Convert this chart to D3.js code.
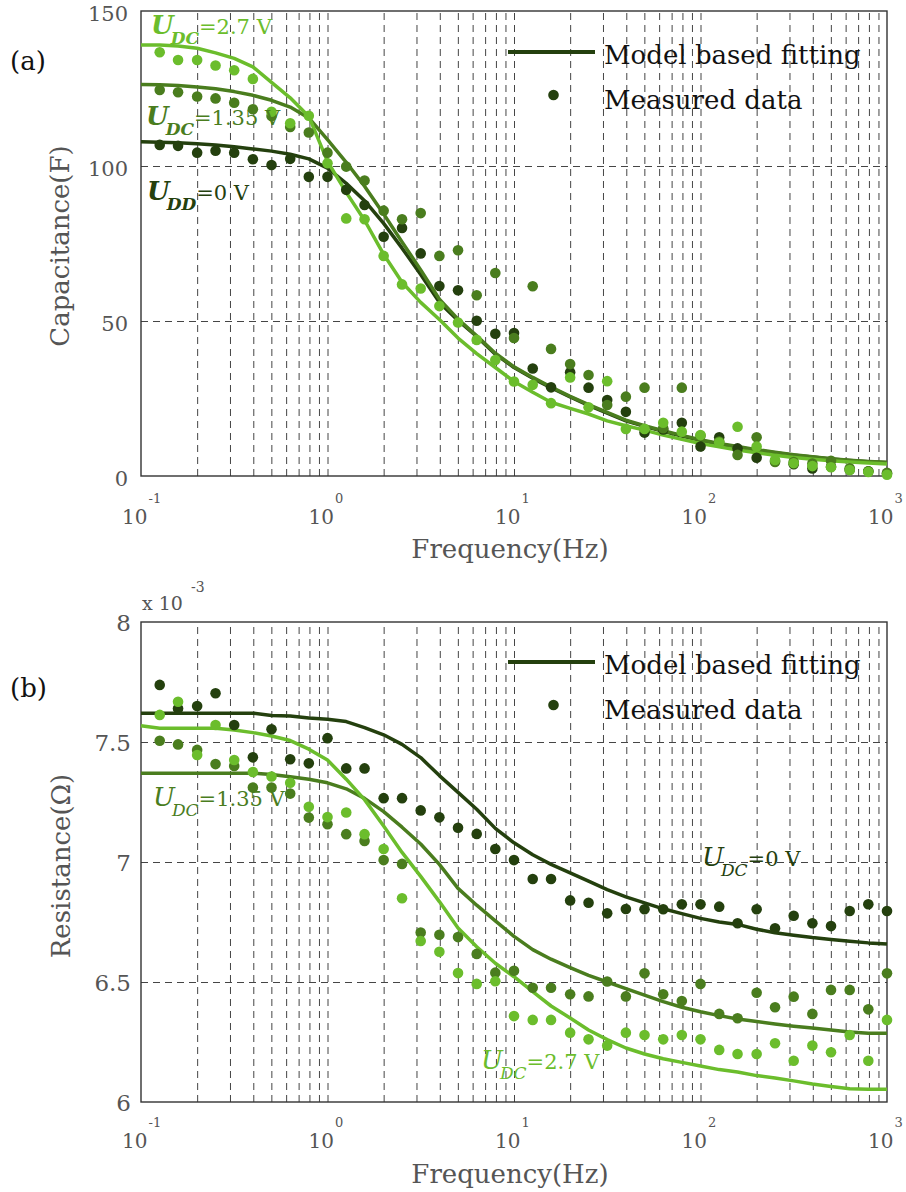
<!DOCTYPE html>
<html>
<head>
<meta charset="UTF-8">
<title>Capacitance and resistance vs frequency</title>
<style>
  body { margin: 0; background: #fff; }
  svg { display: block; font-family: "DejaVu Serif", serif; }
  .grid line { stroke: #454545; stroke-width: 1; stroke-dasharray: 7,5; }
  .grid path { display: none; }
  .frame { fill: none; stroke: #333; stroke-width: 1.4; }
  .tick-label { fill: #555; }
  .axis-title { fill: #555; }
</style>
</head>
<body>
<script src="https://d3js.org/d3.v7.min.js"></script>
<script>
'use strict';

// measured frequencies (Hz), 10 points per decade
var freq = [0.126, 0.158, 0.2, 0.251, 0.316, 0.398, 0.501, 0.631, 0.794, 1,
  1.26, 1.58, 2, 2.51, 3.16, 3.98, 5.01, 6.31, 7.94, 10,
  12.6, 15.8, 20, 25.1, 31.6, 39.8, 50.1, 63.1, 79.4, 100,
  126, 158, 200, 251, 316, 398, 501, 631, 794, 1000];
// model curves start at 0.1 Hz
var fitFreq = [0.1].concat(freq);

var seriesNames = ["0 V", "1.35 V", "2.7 V"];
var seriesColors = ["#24400e", "#4a7d1e", "#6bbd2c"];

// (a) capacitance, F
var capMeas0 = [106.8, 106.5, 104.3, 104.9, 104.3, 102.2, 100.3, 102.3, 96.5, 96.5,
  92.3, 87.4, 77.2, 80.0, 71.8, 61.3, 59.9, 50.1, 45.9, 46.1,
  34.7, 28.6, 33.5, 28.5, 24.5, 20.7, 14.0, 15.0, 17.2, 9.5,
  12.5, 8.9, 5.9, 4.8, 3.8, 2.4, 3.0, 2.0, 1.5, 0.8];
var capMeas135 = [124.5, 123.8, 122.4, 121.8, 120.4, 118.3, 116.1, 112.6, 110.8, 104.3,
  99.8, 95.3, 85.6, 82.8, 84.8, 71.0, 72.8, 58.3, 65.5, 44.5,
  61.2, 41.0, 36.1, 32.6, 22.9, 25.6, 28.5, 15.4, 28.5, 13.0,
  11.1, 6.8, 12.5, 4.5, 4.5, 4.0, 4.9, 2.5, 1.5, 1.0];
var capMeas27 = [136.7, 134.2, 134.2, 132.4, 130.9, 128.1, 117.5, 113.8, 116.2, 100.9,
  83.1, 82.8, 71.0, 61.8, 60.5, 54.8, 49.5, 43.9, 37.4, 30.5,
  29.4, 23.5, 31.8, 22.2, 30.6, 15.2, 15.2, 17.2, 14.3, 13.2,
  10.8, 15.9, 9.5, 5.2, 4.1, 3.2, 2.8, 1.9, 1.3, 0.4];
var capFit0 = [107.8, 107.7, 107.5, 107.2, 106.8, 106.2, 105.5, 104.8, 103.8, 102.3,
  99.3, 94.4, 88.8, 81.5, 73.5, 65.0, 56.0, 50.2, 45.0, 39.3,
  35.0, 31.5, 28.5, 25.5, 22.8, 20.3, 17.8, 16.0, 14.4, 12.9,
  11.5, 10.3, 9.3, 8.3, 7.5, 6.7, 6.1, 5.5, 5.0, 4.6, 4.3];
var capFit135 = [126.3, 126.2, 126.0, 125.5, 124.9, 124.0, 122.8, 121.2, 119.0, 115.5,
  108.5, 101.2, 93.5, 84.5, 75.5, 66.5, 57.0, 50.6, 45.2, 39.6,
  35.2, 31.8, 28.7, 25.7, 23.0, 20.5, 18.0, 16.2, 14.6, 13.1,
  11.7, 10.5, 9.5, 8.5, 7.7, 6.9, 6.2, 5.6, 5.1, 4.7, 4.4];
var capFit27 = [139.0, 139.0, 138.7, 138.0, 136.5, 134.7, 132.0, 127.0, 122.0, 116.0,
  101.5, 91.5, 82.5, 71.5, 62.5, 56.0, 50.5, 44.5, 39.5, 35.0,
  30.5, 27.0, 23.8, 21.8, 20.0, 17.8, 16.2, 14.8, 13.2, 11.8,
  10.5, 9.4, 8.4, 7.5, 6.7, 6.0, 5.4, 4.9, 4.5, 4.2, 3.9];

// (b) resistance, x 10^-3 ohm
var resMeas0 = [7.738, 7.64, 7.65, 7.703, 7.571, 7.436, 7.553, 7.428, 7.411, 7.516,
  7.39, 7.39, 7.266, 7.266, 7.215, 7.186, 7.143, 7.117, 7.054, 7.008,
  6.929, 6.929, 6.84, 6.83, 6.786, 6.804, 6.803, 6.803, 6.824, 6.824,
  6.814, 6.745, 6.803, 6.724, 6.776, 6.745, 6.733, 6.796, 6.824, 6.796];
var resMeas135 = [7.505, 7.49, 7.467, 7.408, 7.4, 7.31, 7.31, 7.285, 7.185, 7.157,
  7.116, 7.088, 7.008, 6.992, 6.706, 6.697, 6.687, 6.617, 6.539, 6.547,
  6.476, 6.476, 6.449, 6.44, 6.502, 6.44, 6.536, 6.449, 6.421, 6.492,
  6.367, 6.349, 6.455, 6.395, 6.439, 6.367, 6.467, 6.467, 6.386, 6.536];
var resMeas27 = [7.613, 7.668, 7.446, 7.571, 7.425, 7.375, 7.356, 7.33, 7.23, 7.187,
  7.206, 7.116, 7.054, 6.849, 6.671, 6.626, 6.537, 6.492, 6.503, 6.358,
  6.342, 6.342, 6.289, 6.261, 6.235, 6.289, 6.279, 6.261, 6.279, 6.261,
  6.217, 6.2, 6.2, 6.245, 6.172, 6.235, 6.207, 6.279, 6.172, 6.342];
var resFit0 = [7.62, 7.62, 7.62, 7.62, 7.62, 7.62, 7.62, 7.61, 7.608, 7.6,
  7.595, 7.585, 7.56, 7.53, 7.49, 7.435, 7.36, 7.29, 7.22, 7.14,
  7.08, 7.03, 6.99, 6.955, 6.92, 6.885, 6.855, 6.83, 6.805, 6.785,
  6.765, 6.75, 6.74, 6.72, 6.705, 6.695, 6.685, 6.677, 6.67, 6.663, 6.658];
var resFit135 = [7.37, 7.37, 7.37, 7.37, 7.37, 7.37, 7.37, 7.365, 7.355, 7.345,
  7.33, 7.305, 7.265, 7.21, 7.145, 7.075, 6.99, 6.89, 6.82, 6.755,
  6.69, 6.635, 6.595, 6.56, 6.528, 6.5, 6.472, 6.445, 6.418, 6.395,
  6.376, 6.36, 6.346, 6.335, 6.325, 6.316, 6.308, 6.3, 6.292, 6.286, 6.286];
var resFit27 = [7.568, 7.557, 7.557, 7.557, 7.557, 7.55, 7.539, 7.525, 7.506, 7.47,
  7.425, 7.345, 7.26, 7.15, 7.04, 6.94, 6.835, 6.725, 6.647, 6.578,
  6.522, 6.46, 6.40, 6.35, 6.30, 6.26, 6.225, 6.2, 6.18, 6.165,
  6.15, 6.135, 6.125, 6.11, 6.1, 6.088, 6.075, 6.065, 6.055, 6.053, 6.053];

var xMajor = [0.1, 1, 10, 100, 1000];
var xMajorExp = ["-1", "0", "1", "2", "3"];
var capTicks = [0, 50, 100, 150];
var resTicks = [6, 6.5, 7, 7.5, 8];
var resTickLabels = ["6", "6.5", "7", "7.5", "8"];

var svg = d3.select("body").append("svg")
  .attr("width", 906)
  .attr("height", 1192);

var x = d3.scaleLog().domain([0.1, 1000]).range([141, 887]);

// grid positions: 1..9 in each decade
var xGrid = [];
[0.1, 1, 10, 100].forEach(function(d){
  for (var m = 1; m <= 9; m++) xGrid.push(m * d);
});
xGrid = xGrid.filter(function(v){ return v > 0.1; });

var line = function(y){
  return d3.line()
    .x(function(d){ return x(d[0]); })
    .y(function(d){ return y(d[1]); });
};

function panel(cfg){
  var y = cfg.y;
  var top = y.range()[1], bottom = y.range()[0];
  var g = svg.append("g");

  g.append("g")
    .attr("class", "grid")
    .attr("transform", "translate(0," + bottom + ")")
    .call(d3.axisBottom(x).tickValues(xGrid).tickSize(-(bottom - top)).tickFormat(""));

  g.append("g")
    .attr("class", "grid")
    .attr("transform", "translate(141,0)")
    .call(d3.axisLeft(y).tickValues(cfg.yTicks.slice(1, -1)).tickSize(-(887 - 141)).tickFormat(""));

  g.append("rect")
    .attr("class", "frame")
    .attr("x", 141).attr("y", top)
    .attr("width", 887 - 141).attr("height", bottom - top);

  // y tick labels
  g.selectAll(".ylab")
    .data(cfg.yTicks)
    .enter().append("text")
      .attr("class", "tick-label")
      .attr("text-anchor", "end")
      .attr("x", cfg.yLabX)
      .attr("y", function(d){ return y(d) + cfg.yLabDy; })
      .attr("font-size", cfg.yLabSize)
      .text(function(d, i){ return cfg.yTickLabels[i]; });

  // x tick labels: 10 with exponent
  var xl = g.selectAll(".xlab")
    .data(xMajor)
    .enter().append("g");
  xl.append("text")
    .attr("class", "tick-label")
    .attr("text-anchor", "end")
    .attr("x", function(d){ return x(d) + 6.5; })
    .attr("y", cfg.xLabBase)
    .attr("font-size", 20)
    .text("10");
  xl.append("text")
    .attr("class", "tick-label")
    .attr("x", function(d){ return x(d) + 7.5; })
    .attr("y", cfg.xLabBase - 21)
    .attr("font-size", 13)
    .text(function(d, i){ return xMajorExp[i]; });

  g.append("text")
    .attr("class", "axis-title")
    .attr("text-anchor", "middle")
    .attr("x", 510)
    .attr("y", cfg.xTitleBase)
    .attr("font-size", 26)
    .text("Frequency(Hz)");

  g.append("text")
    .attr("class", "axis-title")
    .attr("text-anchor", "middle")
    .attr("transform", "translate(" + cfg.yTitleX + "," + cfg.yTitleY + ") rotate(-90)")
    .attr("font-size", 26)
    .text(cfg.yTitle);

  g.append("text")
    .attr("x", 10)
    .attr("y", cfg.tagY)
    .attr("font-size", 26)
    .attr("fill", "#111")
    .text(cfg.tag);

  // model curves
  cfg.fits.forEach(function(f, i){
    g.append("path")
      .datum(d3.zip(fitFreq, f))
      .attr("fill", "none")
      .attr("stroke", seriesColors[i])
      .attr("stroke-width", 3.5)
      .attr("stroke-linejoin", "round")
      .attr("d", line(y));
  });

  // measured points
  cfg.meas.forEach(function(m, i){
    g.append("g").selectAll("circle")
      .data(d3.zip(freq, m))
      .enter().append("circle")
        .attr("cx", function(d){ return x(d[0]); })
        .attr("cy", function(d){ return y(d[1]); })
        .attr("r", 5.3)
        .attr("fill", seriesColors[i]);
  });

  // legend
  var ly = cfg.legendY;
  g.append("line")
    .attr("x1", 508).attr("x2", 595)
    .attr("y1", ly).attr("y2", ly)
    .attr("stroke", seriesColors[0])
    .attr("stroke-width", 4);
  g.append("circle")
    .attr("cx", 553.5).attr("cy", ly + 43)
    .attr("r", 5.3)
    .attr("fill", seriesColors[0]);
  g.append("text")
    .attr("x", 604).attr("y", ly + 12)
    .attr("font-size", 26)
    .attr("fill", "#111")
    .text("Model based fitting");
  g.append("text")
    .attr("x", 604).attr("y", ly + 57)
    .attr("font-size", 26)
    .attr("fill", "#111")
    .text("Measured data");

  // curve annotations
  cfg.notes.forEach(function(n){
    var t = g.append("text")
      .attr("x", n.x).attr("y", n.y)
      .attr("fill", seriesColors[n.s]);
    t.append("tspan")
      .attr("font-size", 26)
      .attr("font-style", "italic")
      .attr("font-weight", n.bold ? "bold" : "normal")
      .text("U");
    t.append("tspan")
      .attr("font-size", 17)
      .attr("font-style", "italic")
      .attr("font-weight", n.bold ? "bold" : "normal")
      .attr("dx", -3)
      .attr("dy", 10)
      .text(n.sub);
    t.append("tspan")
      .attr("font-size", 21)
      .attr("dy", -10)
      .text("=" + seriesNames[n.s]);
  });

  return g;
}

panel({
  y: d3.scaleLinear().domain([0, 150]).range([476, 11]),
  yTicks: capTicks,
  yTickLabels: capTicks.map(String),
  yLabX: 128, yLabDy: 10, yLabSize: 21,
  xLabBase: 524, xTitleBase: 558,
  yTitle: "Capacitance(F)", yTitleX: 69, yTitleY: 246,
  tag: "(a)", tagY: 70,
  fits: [capFit0, capFit135, capFit27],
  meas: [capMeas0, capMeas135, capMeas27],
  legendY: 52,
  notes: [
    {s: 2, x: 151, y: 34, sub: "DC", bold: true},
    {s: 1, x: 146, y: 125, sub: "DC", bold: true},
    {s: 0, x: 147, y: 200, sub: "DD", bold: true}
  ]
});

var pb = panel({
  y: d3.scaleLinear().domain([6, 8]).range([1102, 622]),
  yTicks: resTicks,
  yTickLabels: resTickLabels,
  yLabX: 131, yLabDy: 9, yLabSize: 23,
  xLabBase: 1148, xTitleBase: 1183,
  yTitle: "Resistance(Ω)", yTitleX: 70, yTitleY: 866,
  tag: "(b)", tagY: 697,
  fits: [resFit0, resFit135, resFit27],
  meas: [resMeas0, resMeas135, resMeas27],
  legendY: 662,
  notes: [
    {s: 1, x: 153, y: 806, sub: "DC", bold: false},
    {s: 0, x: 702, y: 866, sub: "DC", bold: false},
    {s: 2, x: 481, y: 1069, sub: "DC", bold: false}
  ]
});

// exponent label of the resistance axis
pb.append("text")
  .attr("class", "tick-label")
  .attr("x", 142).attr("y", 610)
  .attr("font-size", 19)
  .text("x 10");
pb.append("text")
  .attr("class", "tick-label")
  .attr("x", 191).attr("y", 592)
  .attr("font-size", 14)
  .text("-3");

</script>
</body>
</html>
